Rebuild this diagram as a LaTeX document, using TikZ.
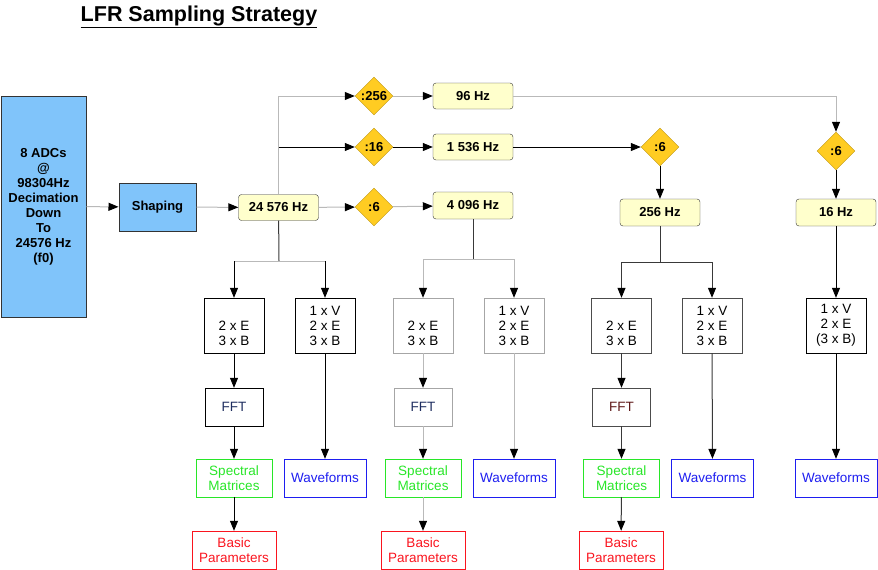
\documentclass[tikz,border=0pt]{standalone}
\usepackage{fontspec}
\setmainfont{Liberation Sans}
\usetikzlibrary{shapes.geometric,arrows.meta}
\definecolor{adcblue}{RGB}{128,196,250}
\definecolor{freqfill}{RGB}{255,255,204}
\definecolor{divgold}{RGB}{255,204,34}
\definecolor{divedge}{RGB}{190,150,20}
\definecolor{specgreen}{RGB}{40,230,40}
\definecolor{wfblue}{RGB}{30,30,240}
\definecolor{bpred}{RGB}{250,20,30}
\definecolor{fftnavy}{RGB}{30,45,95}
\definecolor{fftbrown}{RGB}{95,25,25}
\begin{document}
\begin{tikzpicture}[x=1pt,y=-1pt,
    every node/.style={font=\fontsize{13.5}{15}\selectfont,align=center,inner sep=1pt},
    boldtext/.style={font=\fontsize{13}{15}\selectfont\bfseries},
    src/.style={draw=gray!40!black,fill=adcblue,line width=1pt,boldtext},
    freq/.style={draw=gray!40!black,fill=freqfill,rounded corners=3pt,
      minimum width=80,minimum height=26,boldtext},
    div/.style={diamond,draw=divedge,fill=divgold,inner sep=0pt,minimum width=38,
      minimum height=38,boldtext},
    chan/.style={draw,minimum width=60,minimum height=55},
    fftbox/.style={draw,minimum width=58,minimum height=38},
    spec/.style={draw=specgreen,text=specgreen,minimum width=76,minimum height=38},
    wave/.style={draw=wfblue,text=wfblue,minimum width=82,minimum height=38},
    basic/.style={draw=bpred,text=bpred,minimum width=84,minimum height=38},
    tip/.style={-{Triangle[length=10pt,width=8pt,color=black]}},
    gline/.style={draw=gray!55,line width=1pt},
    dline/.style={draw=gray!45!black,line width=1pt},
    bline/.style={draw=black,line width=0.8pt}]
  \useasboundingbox (0,0) rectangle (878,570);
  \node[font=\fontsize{21.5}{24}\selectfont\bfseries] (title) at (199,17) {\underline{LFR Sampling Strategy}};

  % input chain
  \node[src,minimum width=85,minimum height=221] (adc) at (43.5,206.5)
    {8 ADCs\\@\\98304Hz\\Decimation\\Down\\To\\24576 Hz\\(f0)};
  \node[src,minimum width=77,minimum height=48] (shaping) at (157.5,207) {Shaping};
  \node[freq] (f0) at (278.5,207.5) {24 576 Hz};
  \draw[gline,tip] (adc) -- (shaping);
  \draw[gline,tip] (shaping) -- (f0);

  % dividers
  \node[div] (d256) at (374,96) {:256};
  \node[div] (d16) at (374,147) {:16};
  \node[div] (d6a) at (374,207) {:6};
  \node[freq] (f96) at (473,96) {96 Hz};
  \node[freq] (f1536) at (473,147) {1 536 Hz};
  \node[freq,minimum height=27] (f4096) at (473,205.5) {4 096 Hz};
  \node[div] (d6b) at (660,147) {:6};
  \node[div] (d6c) at (836,151) {:6};
  \node[freq,minimum height=27] (f256) at (660,212.5) {256 Hz};
  \node[freq,minimum height=27] (f16) at (836,212.5) {16 Hz};
  \coordinate (j16) at (f0.north |- d16);
  \draw[gline,tip] (f0.north) |- (d256);
  \draw[bline,tip] (j16) -- (d16);
  \draw[gline,tip] (f0) -- (d6a);
  \draw[gline,tip] (d256) -- (f96);
  \draw[bline,tip] (d16) -- (f1536);
  \draw[gline,tip] (d6a) -- (f4096);
  \draw[gline,tip] (f96) -| (d6c);
  \draw[bline,tip] (f1536) -- (d6b);
  \draw[bline,tip] (d6b) -- (f256);
  \draw[bline,tip] (d6c) -- (f16);

  % f0 column
  \node[chan] (e1) at (234,325.5) {\phantom{1 x V}\\2 x E\\3 x B};
  \node[chan] (v1) at (325,325.5) {1 x V\\2 x E\\3 x B};
  \node[fftbox,text=fftnavy] (fft1) at (234,407) {FFT};
  \node[spec] (sm1) at (234,478) {Spectral\\Matrices};
  \node[wave] (wf1) at (325,478) {Waveforms};
  \node[basic] (bp1) at (234,550) {Basic\\Parameters};
  \coordinate (b1) at (279,261);
  \draw[dline] (f0) -- (b1);
  \draw[gline] (e1.north |- b1) -- (v1.north |- b1);
  \draw[bline,tip] (e1.north |- b1) -- (e1);
  \draw[bline,tip] (v1.north |- b1) -- (v1);
  \draw[bline,tip] (e1) -- (fft1);
  \draw[bline,tip] (fft1) -- (sm1);
  \draw[bline,tip] (sm1) -- (bp1);
  \draw[bline,tip] (v1) -- (wf1);

  % 4 096 Hz column
  \node[chan,draw=gray!70] (e2) at (423,325.5) {\phantom{1 x V}\\2 x E\\3 x B};
  \node[chan,draw=gray!70] (v2) at (514,325.5) {1 x V\\2 x E\\3 x B};
  \node[fftbox,draw=gray!70,text=fftnavy] (fft2) at (423,407) {FFT};
  \node[spec] (sm2) at (423,478) {Spectral\\Matrices};
  \node[wave] (wf2) at (514,478) {Waveforms};
  \node[basic] (bp2) at (423,550) {Basic\\Parameters};
  \coordinate (b2) at (473,259);
  \draw[dline] (f4096) -- (b2);
  \draw[gline] (e2.north |- b2) -- (v2.north |- b2);
  \draw[gline,tip] (e2.north |- b2) -- (e2);
  \draw[gline,tip] (v2.north |- b2) -- (v2);
  \draw[gline,tip] (e2) -- (fft2);
  \draw[gline,tip] (fft2) -- (sm2);
  \draw[gline,tip] (sm2) -- (bp2);
  \draw[gline,tip] (v2) -- (wf2);

  % 256 Hz column
  \node[chan,draw=gray!60!black] (e3) at (621.5,325.5) {\phantom{1 x V}\\2 x E\\3 x B};
  \node[chan,draw=gray!60!black] (v3) at (712,325.5) {1 x V\\2 x E\\3 x B};
  \node[fftbox,draw=gray!60!black,text=fftbrown] (fft3) at (621.5,407) {FFT};
  \node[spec] (sm3) at (621.5,478) {Spectral\\Matrices};
  \node[wave] (wf3) at (712.5,478) {Waveforms};
  \node[basic] (bp3) at (621,550) {Basic\\Parameters};
  \coordinate (b3) at (660,262);
  \draw[dline] (f256) -- (b3);
  \draw[dline] (e3.north |- b3) -- (v3.north |- b3);
  \draw[dline,tip] (e3.north |- b3) -- (e3);
  \draw[dline,tip] (v3.north |- b3) -- (v3);
  \draw[dline,tip] (e3) -- (fft3);
  \draw[dline,tip] (fft3) -- (sm3);
  \draw[dline,tip] (sm3) -- (bp3);
  \draw[dline,tip] (v3) -- (wf3);

  % 16 Hz column
  \node[chan] (v4) at (836,325.5) {1 x V\\2 x E\\(3 x B)};
  \node[wave] (wf4) at (836,478) {Waveforms};
  \draw[bline,tip] (f16) -- (v4);
  \draw[bline,tip] (v4) -- (wf4);
\end{tikzpicture}
\end{document}
